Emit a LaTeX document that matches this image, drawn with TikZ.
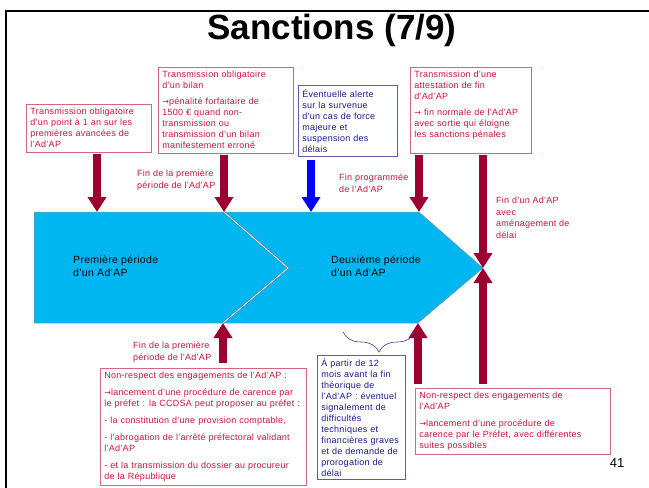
\documentclass[tikz,border=0pt]{standalone}
\usepackage{fontspec}
\setmainfont{Liberation Sans}
\newfontfamily\boxfont{Liberation Sans}[LetterSpace=3]
\newfontfamily\arrowfont{DejaVu Sans}
\newcommand{\rarr}{{\arrowfont\fontsize{8}{8}\selectfont →}}
\usetikzlibrary{arrows.meta, decorations.pathreplacing}
\definecolor{cred}{HTML}{C8143C}
\definecolor{credline}{HTML}{D4667F}
\definecolor{cdarkred}{HTML}{9B0030}
\definecolor{cnavy}{HTML}{1A1A8C}
\definecolor{cblueline}{HTML}{5A5AB0}
\definecolor{cblue}{HTML}{0000FF}
\definecolor{csky}{HTML}{00B6F0}
\tikzset{
  redbox/.style={draw=credline, line width=0.8pt, text=cred, align=left, anchor=north west,
    inner xsep=4pt, inner ysep=4pt, font=\boxfont\fontsize{9}{11}\selectfont},
  bluebox/.style={redbox, draw=cblueline, text=cnavy},
  milestone/.style={text=cred, align=left, anchor=west, inner sep=0pt, font=\boxfont\fontsize{9}{11.5}\selectfont},
  phasetext/.style={align=left, anchor=west, inner sep=0pt, font=\boxfont\fontsize{10.5}{12.5}\selectfont},
  fatarrow/.style={-{Triangle[width=18pt,length=15pt]}, line width=8pt, draw=#1},
  fatarrow/.default=cdarkred,
  phase/.style={fill=csky, draw=black!40, line width=0.5pt},
}

\begin{document}
\begin{tikzpicture}[x=1pt, y=-1pt]
  \useasboundingbox (0,0) rectangle (649,488);
  % slide frame and title
  \draw[line width=1.6pt] (6,500) -- (6,11) -- (660,11);
  \node[font=\fontsize{35}{40}\selectfont\bfseries] (title) at (332,30) {Sanctions (7/9)};
  % the two periods
  \coordinate (tl) at (34,212);
  \coordinate (nt) at (224,212);
  \coordinate (nn) at (288,268);
  \coordinate (nb) at (223,323);
  \coordinate (bl) at (34,323);
  \coordinate (et) at (419,212);
  \coordinate (ee) at (483,268);
  \coordinate (eb) at (418,323);
  \filldraw[phase] (tl) -- (et) -- (ee) -- (eb) -- (bl) -- cycle;
  \draw[draw=black!60, double=white, double distance=0.8pt, line width=0.4pt] (nt) -- (nn) -- (nb);
  \node[phasetext] (phase1) at (73,266) {Première période\\d’un Ad’AP};
  \node[phasetext] (phase2) at (331,266) {Deuxième période\\d’un Ad’AP};
  % boxes above
  \node[redbox, text width=117pt] (point) at (26,104) {Transmission obligatoire\\d’un point à 1 an sur les\\premières avancées de\\l’Ad’AP};
  \node[redbox, text width=127pt] (bilan) at (158,67) {Transmission obligatoire\\d’un bilan\\[5pt]\rarr pénalité forfaitaire de\\1500 € quand non-\\transmission ou\\transmission d’un bilan\\manifestement erroné};
  \node[bluebox, text width=91pt] (alerte) at (298,85) {Éventuelle alerte\\sur la survenue\\d’un cas de force\\majeure et\\suspension des\\délais};
  \node[redbox, text width=113pt] (attest) at (410,67) {Transmission d’une\\attestation de fin\\d’Ad’AP\\[5pt]\rarr{} fin normale de l’Ad’AP\\avec sortie qui éloigne\\les sanctions pénales\\\mbox{}};
  % boxes below
  \node[redbox, text width=198pt] (carence) at (100,368) {Non-respect des engagements de l’Ad’AP :\\[6pt]\rarr lancement d’une procédure de carence par\\le préfet : la CCDSA peut proposer au préfet :\\[6pt]- la constitution d’une provision comptable,\\[6pt]- l’abrogation de l’arrêté préfectoral validant\\l’Ad’AP\\[6pt]- et la transmission du dossier au procureur\\de la République};
  \node[bluebox, text width=80pt, inner ysep=3pt] (report) at (317,355) {À partir de 12\\mois avant la fin\\théorique de\\l’Ad’AP : éventuel\\signalement de\\difficultés\\techniques et\\financières graves\\et de demande de\\prorogation de\\délai};
  \node[redbox, text width=187pt] (prefet) at (415,388) {Non-respect des engagements de\\l’Ad’AP\\[6pt]\rarr lancement d’une procédure de\\carence par le Préfet, avec différentes\\suites possibles};
  % milestones
  \node[milestone] (fin1) at (137,180) {Fin de la première\\période de l’Ad’AP};
  \node[milestone] (finprog) at (339,183) {Fin programmée\\de l’Ad’AP};
  \node[milestone] (finamen) at (496,218) {Fin d’un Ad’AP\\avec\\aménagement de\\délai};
  \node[milestone] (fin1b) at (133,352) {Fin de la première\\période de l’Ad’AP};
  % arrows down
  \coordinate (t1) at (97,212);
  \coordinate (t3) at (311,212);
  \draw[fatarrow, shorten <=2pt] (t1 |- point.south) -- (t1);
  \draw[fatarrow, shorten <=2pt] (nt |- bilan.south) -- (nt);
  \draw[fatarrow=cblue, shorten <=3pt] (t3 |- alerte.south) -- (t3);
  \draw[fatarrow, shorten <=2pt] (et |- attest.south) -- (et);
  \draw[fatarrow, shorten <=2pt] (ee |- attest.south) -- (ee);
  % arrows up
  \draw[fatarrow, shorten <=5pt] (nb |- carence.north) -- (nb);
  \draw[fatarrow, shorten <=4pt] (eb |- prefet.north) -- (eb);
  \draw[fatarrow, shorten <=4pt] (ee |- prefet.north) -- (ee);
  % last twelve months
  \coordinate (b1) at (343,332);
  \coordinate (b2) at (415,332);
  \draw[decorate, decoration={brace, mirror, amplitude=20pt}, draw=cblueline!70!black, line width=0.6pt] (b1) -- (b2);
  \node[font=\fontsize{13}{15}\selectfont] (pagenum) at (617,463) {41};
\end{tikzpicture}
\end{document}
